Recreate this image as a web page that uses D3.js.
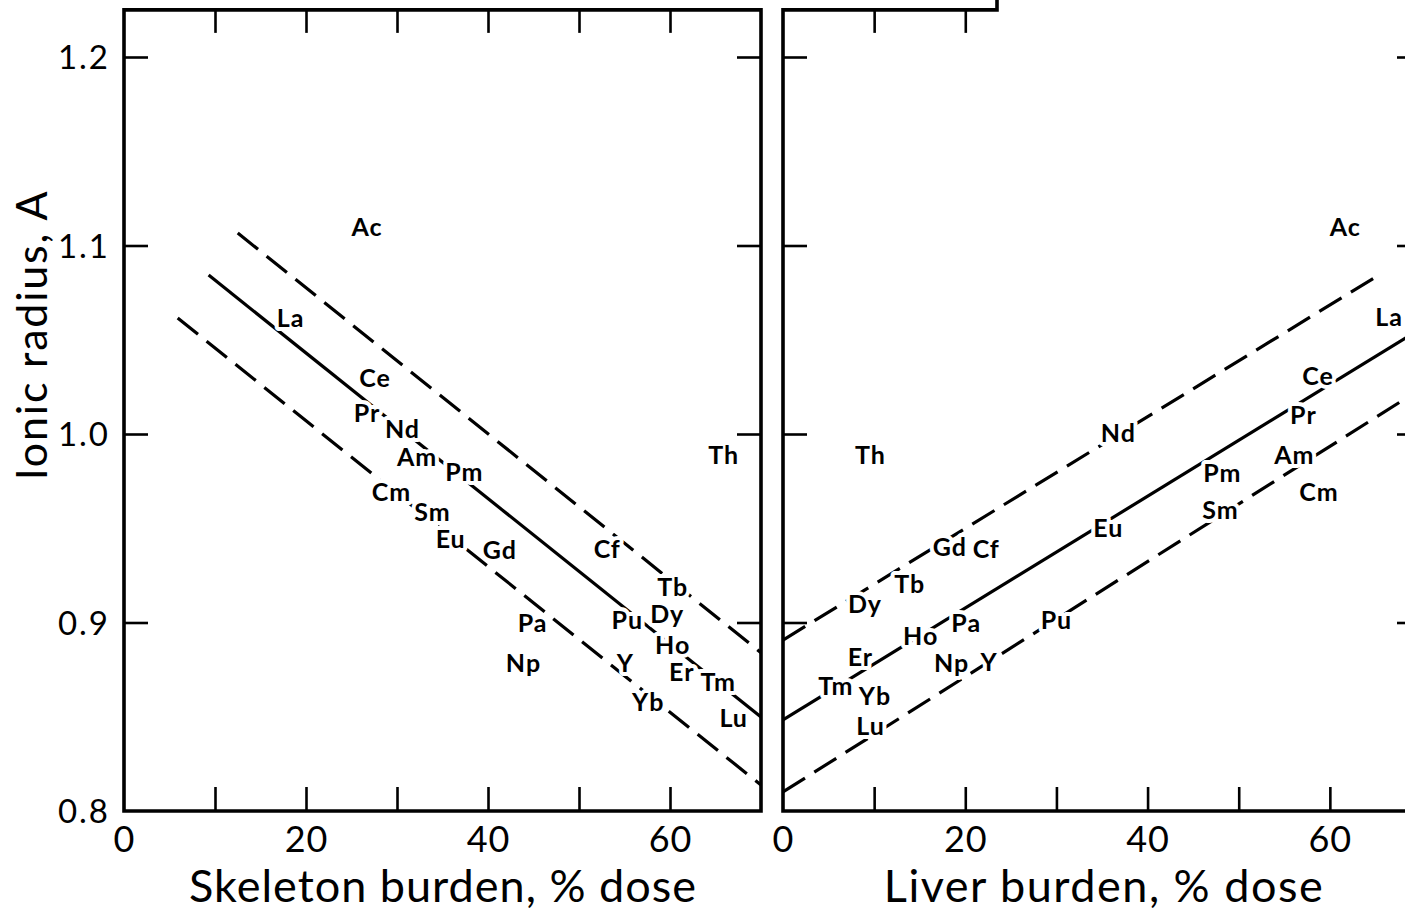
<!DOCTYPE html>
<html><head><meta charset="utf-8">
<script src="https://cdn.jsdelivr.net/npm/d3@7"></script>
<style>body{margin:0;background:#fff}svg{display:block}</style>
</head><body>
<svg id="c" width="1405" height="911"></svg>
<script>
// ---- data ----
const elements       = ["Ac","La","Ce","Pr","Nd","Pm","Am","Cm","Sm","Eu","Gd","Cf","Tb","Dy","Ho","Er","Tm","Yb","Lu","Y","Th","Pa","Np","Pu"];
const skeletonBurden = [26.7,18.3,27.6,26.7,30.6,37.4,32.2,29.4,33.9,35.9,41.3,53.1,60.3,59.7,60.3,61.3,65.3,57.6,67.0,55.1,65.9,44.9,43.9,55.3];
const skeletonRadius = [1.110,1.0615,1.0297,1.0111,1.0027,0.9798,0.9878,0.9692,0.9586,0.9443,0.9385,0.9390,0.9188,0.9045,0.8881,0.8737,0.8684,0.8578,0.8493,0.8785,0.9889,0.8997,0.8785,0.9013];
const liverBurden    = [61.7,66.5,58.7,57.1,36.8,48.2,56.1,58.8,48.0,35.7,18.3,22.3,13.9,9.0,15.1,8.5,5.8,10.1,9.6,22.6,9.6,20.1,18.5,30.0];
const liverRadius    = [1.110,1.062,1.0308,1.0101,1.0005,0.9793,0.9889,0.9692,0.9597,0.9501,0.9401,0.9390,0.9204,0.9098,0.8928,0.8815,0.8663,0.8610,0.8450,0.8790,0.9889,0.8997,0.8785,0.9013];

// band lines: [burden, radius] end points
const skeletonUpper  = [[12.5,1.1066],[70,0.884]];
const skeletonMiddle = [[9.3,1.0843],[70,0.8499]];
const skeletonLower  = [[5.9,1.0615],[70,0.8138]];
const liverUpper     = [[0,0.8907],[65.4,1.0844]];
const liverMiddle    = [[0,0.8483],[70,1.056]];
const liverLower     = [[0,0.8101],[70,1.024]];

const xTickMarks  = [10,20,30,40,50,60];
const xTickLabels = [0,20,40,60];
const yTickMarks  = [0.9,1.0,1.1,1.2];
const yTickLabels = [0.8,0.9,1.0,1.1,1.2];
const yTop = 1.225;

// ---- drawing ----
const svg = d3.select("#c");
const FONT = "Lato, 'Noto Sans', sans-serif";
const y = d3.scaleLinear().domain([0.8,1.2]).range([811,57]);
const xS = d3.scaleLinear().domain([0,70]).range([124,761]);
const xL = d3.scaleLinear().domain([0,70]).range([783,1421]);

const frameW = 3.6, tickW = 2.6, lineW = 3.2;

function frame(x, topEnd) {
  const x0 = x(0), x1 = x(70), yb = y(0.8), yt = y(yTop);
  const p = d3.path();
  if (topEnd === undefined) {
    p.moveTo(x0, yb); p.lineTo(x0, yt); p.lineTo(x1, yt); p.lineTo(x1, yb); p.closePath();
  } else {
    p.moveTo(topEnd, 0); p.lineTo(topEnd, yt); p.lineTo(x0, yt); p.lineTo(x0, yb); p.lineTo(x1, yb); p.lineTo(x1, yt - 12);
  }
  svg.append("path").attr("d", p.toString()).attr("fill","none")
    .attr("stroke","#000").attr("stroke-width",frameW).attr("stroke-linejoin","miter");
}

function ticks(x, topTicks) {
  const g = svg.append("g");
  g.append("g").attr("transform",`translate(0,${y(0.8)})`)
    .call(d3.axisBottom(x).tickValues(xTickMarks).tickSize(-24).tickFormat(""));
  g.append("g").attr("transform",`translate(0,${y(yTop)})`)
    .call(d3.axisTop(x).tickValues(topTicks).tickSize(-23).tickFormat(""));
  g.append("g").attr("transform",`translate(${x(0)},0)`)
    .call(d3.axisLeft(y).tickValues(yTickMarks).tickSize(-24).tickFormat(""));
  g.append("g").attr("transform",`translate(${x(70)},0)`)
    .call(d3.axisRight(y).tickValues(yTickMarks).tickSize(-24).tickFormat(""));
  g.selectAll(".domain").remove();
  g.selectAll("line").attr("stroke","#000").attr("stroke-width",tickW);
  const lab = svg.append("g").attr("transform",`translate(0,${y(0.8)})`)
    .call(d3.axisBottom(x).tickValues(xTickLabels).tickSize(0).tickPadding(0).tickFormat(d3.format("d")));
  lab.select(".domain").remove();
  lab.selectAll("text").attr("y",41).attr("dy",0).attr("font-family",FONT)
    .attr("font-size",36).attr("letter-spacing",1).attr("fill","#000");
}

function band(x, pts, dashed) {
  const line = d3.line().x(d => x(d[0])).y(d => y(d[1]));
  svg.append("path").datum(pts).attr("d", line).attr("fill","none")
    .attr("stroke","#000").attr("stroke-width",lineW)
    .attr("stroke-dasharray", dashed ? "26 11" : null);
}

function labels(x, bx, ry) {
  svg.append("g").selectAll("text").data(elements).join("text")
    .attr("x", (d,i) => x(bx[i])).attr("y", (d,i) => y(ry[i]))
    .attr("dy","0.36em").attr("text-anchor","middle")
    .attr("font-family",FONT).attr("font-weight",700).attr("font-size",25)
    .attr("letter-spacing",1)
    .attr("fill","#000").attr("stroke","#fff").attr("stroke-width",8)
    .attr("paint-order","stroke").attr("stroke-linejoin","round")
    .text(d => d);
}

band(xS, skeletonUpper, true);
band(xS, skeletonMiddle, false);
band(xS, skeletonLower, true);
band(xL, liverUpper, true);
band(xL, liverMiddle, false);
band(xL, liverLower, true);

labels(xS, skeletonBurden, skeletonRadius);
labels(xL, liverBurden, liverRadius);

frame(xS);
frame(xL, 997);
ticks(xS, xTickMarks);
ticks(xL, [10,20]);

const yl = svg.append("g").attr("transform",`translate(110,0)`)
  .call(d3.axisLeft(y).tickValues(yTickLabels).tickSize(0).tickPadding(0).tickFormat(d3.format(".1f")));
yl.select(".domain").remove();
yl.selectAll("text").attr("font-family",FONT).attr("font-size",33).attr("letter-spacing",2)
  .attr("fill","#000").attr("dy","0.36em");

svg.append("text").attr("x",443).attr("y",902).attr("text-anchor","middle")
  .attr("font-family",FONT).attr("font-size",45).attr("letter-spacing",1).text("Skeleton burden, % dose");
svg.append("text").attr("x",1104).attr("y",902).attr("text-anchor","middle")
  .attr("font-family",FONT).attr("font-size",45).attr("letter-spacing",1.5).text("Liver burden, % dose");
svg.append("text").attr("transform","translate(47,335) rotate(-90)").attr("text-anchor","middle")
  .attr("font-family",FONT).attr("font-size",43).attr("letter-spacing",1.8).text("Ionic radius, A");
</script>
</body></html>
